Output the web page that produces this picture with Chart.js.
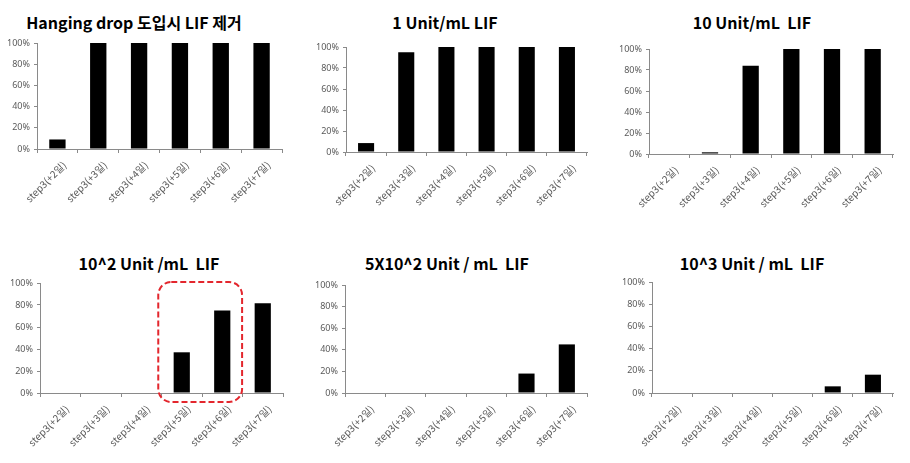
<!DOCTYPE html>
<html><head><meta charset="utf-8">
<script src="https://cdn.jsdelivr.net/npm/chart.js@4.4.0/dist/chart.umd.min.js"></script>
<style>
html,body{margin:0;padding:0;background:#fff;width:910px;height:463px;overflow:hidden;position:relative;}
canvas{position:absolute;}
.t{position:absolute;white-space:pre;transform:translate(-50%,-50%);font-family:'Noto Sans CJK KR','Noto Sans',sans-serif;font-weight:bold;font-size:16px;color:#000;}
</style></head><body>
<script>
const categories = ['step3(+2일)','step3(+3일)','step3(+4일)','step3(+5일)','step3(+6일)','step3(+7일)'];
const titles = ['Hanging drop 도입시 LIF 제거','1 Unit/mL LIF','10 Unit/mL  LIF','10^2 Unit /mL  LIF','5X10^2 Unit / mL  LIF','10^3 Unit / mL  LIF'];
const valuesNoLIF = [9,100,100,100,100,100];
const values1U = [8.5,95,100,100,100,100];
const values10U = [0,1.6,84,100,100,100];
const values100U = [0,0,0,37,75,81.5];
const values500U = [0,0,0,0,18,45];
const values1000U = [0,0,0,0,6,16.5];
const yTicks = [0,20,40,60,80,100];

const seriesList = [valuesNoLIF, values1U, values10U, values100U, values500U, values1000U];
// plot-area geometry: left, top(100%), bottom(0%), right; title center
const panels = [
  {L:37,T:43,B:149,R:282,tx:134,ty:22},
  {L:346,T:47,B:152,R:587,tx:445,ty:22},
  {L:649,T:49,B:154,R:893,tx:752,ty:22},
  {L:40,T:283,B:393,R:283,tx:149,ty:263},
  {L:345,T:285,B:393,R:587,tx:447,ty:263},
  {L:652,T:282,B:393,R:893,tx:752,ty:263}
];
const YW = 36, PT = 10, PR = 10, XH = 70;

const redBox = {
  id:'redBox',
  afterDatasetsDraw(chart){
    const x = chart.scales.x, y = chart.scales.y, ctx = chart.ctx;
    const cw = x.getPixelForValue(1) - x.getPixelForValue(0);
    const l = x.getPixelForValue(3) - 0.58*cw, r = x.getPixelForValue(4) + 0.49*cw;
    const t = y.getPixelForValue(100) - 1, b = y.getPixelForValue(0) + 9;
    ctx.save();
    ctx.strokeStyle = '#e3262d'; ctx.lineWidth = 2; ctx.setLineDash([6,3]);
    ctx.beginPath(); ctx.roundRect(l,t,r-l,b-t,13); ctx.stroke();
    ctx.restore();
  }
};

panels.forEach((p,i)=>{
  const d = document.createElement('div');
  d.className='t'; d.textContent = titles[i];
  d.style.left = p.tx+'px'; d.style.top = p.ty+'px';
  document.body.appendChild(d);
  const c = document.createElement('canvas');
  const w = p.R - p.L + YW + PR, h = p.B - p.T + PT + XH;
  c.width = w; c.height = h;
  c.style.left = (p.L - YW)+'px'; c.style.top = (p.T - PT)+'px';
  c.style.width = w+'px'; c.style.height = h+'px';
  document.body.appendChild(c);
  new Chart(c, {
    type:'bar',
    data:{labels:categories, datasets:[{data:seriesList[i], backgroundColor:'#000', borderWidth:0, categoryPercentage:1, barPercentage:0.4}]},
    options:{
      responsive:false, animation:false, devicePixelRatio:1,
      layout:{padding:{top:PT,right:PR,left:0,bottom:0}},
      plugins:{legend:{display:false},tooltip:{enabled:false},title:{display:false}},
      scales:{
        x:{
          grid:{drawOnChartArea:false,drawTicks:true,tickLength:4,color:'#8a8a8a',offset:true},
          border:{display:true,color:'#8a8a8a',width:1},
          ticks:{autoSkip:false,maxRotation:45,minRotation:45,color:'#5a5a5a',font:{family:"'Noto Sans CJK KR','Noto Sans',sans-serif",size:10},padding:6,labelOffset:7},
          afterFit(s){s.height = XH;}
        },
        y:{
          min:0,max:100,
          afterBuildTicks(s){s.ticks = yTicks.map(v=>({value:v}));},
          grid:{drawOnChartArea:false,drawTicks:true,tickLength:3,color:'#8a8a8a'},
          border:{display:true,color:'#8a8a8a',width:1},
          ticks:{color:'#5a5a5a',font:{family:"'Noto Sans','DejaVu Sans',sans-serif",size:9},padding:4,callback:v=>v+'%'},
          afterFit(s){s.width = YW;}
        }
      }
    },
    plugins: i===3 ? [redBox] : []
  });
});
</script>
</body></html>
